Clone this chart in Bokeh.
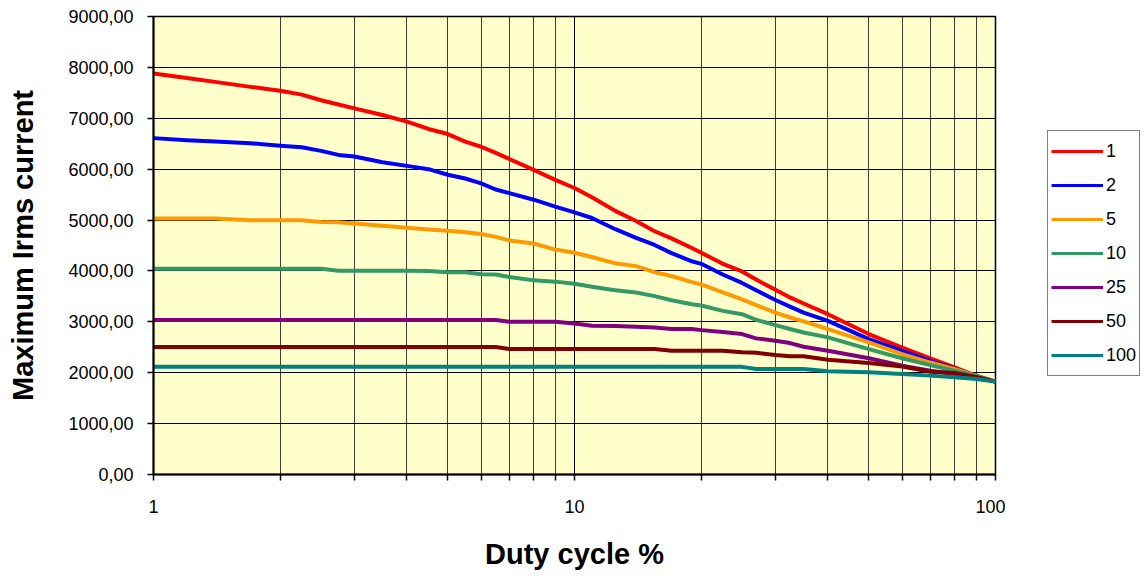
from bokeh.plotting import figure
from bokeh.models import (FixedTicker, CustomJSTickFormatter, Legend, LegendItem,
                          Range1d)
from bokeh.layouts import row
from bokeh.embed import file_html
from bokeh.resources import INLINE

duty = [1, 1.2, 1.4, 1.7, 2, 2.25, 2.5, 2.75, 3, 3.5, 4, 4.5, 5, 5.5, 6, 6.5, 7, 8, 9, 10,
        11, 12.5, 14, 15.5, 17, 19, 20, 22.5, 25, 27, 30, 32.5, 35, 40, 50, 60, 70, 80, 90, 100]

s1 = [7880, 7790, 7715, 7617, 7540, 7465, 7355, 7270, 7195, 7065, 6935, 6790, 6690, 6540,
      6440, 6320, 6200, 5985, 5790, 5630, 5450, 5180, 4980, 4780, 4640, 4450, 4357, 4140,
      3990, 3830, 3630, 3480, 3360, 3150, 2760, 2495, 2280, 2105, 1940, 1825]
s2 = [6610, 6570, 6545, 6510, 6460, 6430, 6360, 6280, 6250, 6137, 6065, 6000, 5890, 5817,
      5720, 5600, 5530, 5400, 5265, 5150, 5040, 4820, 4650, 4510, 4350, 4190, 4140, 3930,
      3765, 3620, 3430, 3300, 3180, 3020, 2660, 2430, 2235, 2075, 1935, 1825]
s5 = [5030, 5030, 5030, 4995, 4995, 4995, 4960, 4955, 4930, 4890, 4850, 4815, 4790, 4760,
      4725, 4670, 4600, 4540, 4420, 4357, 4275, 4150, 4095, 3975, 3900, 3780, 3735, 3580,
      3440, 3330, 3180, 3085, 3010, 2855, 2595, 2365, 2200, 2070, 1935, 1825]
s10 = [4045, 4045, 4045, 4045, 4045, 4045, 4045, 4005, 4005, 4005, 4005, 4000, 3975, 3975,
       3935, 3930, 3880, 3815, 3790, 3750, 3690, 3620, 3575, 3505, 3425, 3345, 3320, 3215,
       3150, 3040, 2935, 2860, 2790, 2695, 2465, 2285, 2150, 2040, 1930, 1825]
s25 = [3035, 3035, 3035, 3035, 3035, 3035, 3035, 3035, 3035, 3035, 3035, 3035, 3035, 3035,
       3035, 3035, 3000, 3000, 3000, 2967, 2925, 2920, 2902, 2890, 2857, 2857, 2837, 2800,
       2760, 2675, 2628, 2583, 2510, 2432, 2283, 2140, 2040, 1975, 1910, 1825]
s50 = [2505, 2505, 2505, 2505, 2505, 2505, 2505, 2505, 2505, 2505, 2505, 2505, 2505, 2505,
       2505, 2505, 2465, 2465, 2465, 2465, 2465, 2465, 2465, 2465, 2432, 2432, 2432, 2432,
       2400, 2393, 2348, 2322, 2322, 2256, 2190, 2120, 2020, 1995, 1910, 1825]
s100 = [2115, 2115, 2115, 2115, 2115, 2115, 2115, 2115, 2115, 2115, 2115, 2115, 2115, 2115,
        2115, 2115, 2115, 2115, 2115, 2115, 2115, 2115, 2115, 2115, 2115, 2115, 2115, 2115,
        2115, 2074, 2074, 2074, 2074, 2028, 2009, 1976, 1943, 1911, 1878, 1825]

series_names = ["1", "2", "5", "10", "25", "50", "100"]
series_values = [s1, s2, s5, s10, s25, s50, s100]
colors = ["#FF0000", "#0000FF", "#FF9900", "#339966", "#800080", "#800000", "#008080"]

x_major = [1, 10, 100]
x_minor = [2, 3, 4, 5, 6, 7, 8, 9, 20, 30, 40, 50, 60, 70, 80, 90]
y_ticks = [0, 1000, 2000, 3000, 4000, 5000, 6000, 7000, 8000, 9000]

FONT = "Liberation Sans"
H = 572

p = figure(width=1005, height=H, x_axis_type="log", output_backend="svg",
           toolbar_location=None, x_range=Range1d(1, 100), y_range=Range1d(0, 9000),
           min_border_left=153, min_border_right=10, min_border_top=16, min_border_bottom=96)

p.border_fill_color = "#FFFFFF"
p.background_fill_color = "#FFFFCC"
p.outline_line_color = "#000000"
p.outline_line_width = 1.5

# axes
p.xaxis.ticker = FixedTicker(ticks=x_major, minor_ticks=x_minor)
p.xaxis.major_label_overrides = {1: "1", 10: "10", 100: "100"}
p.yaxis.ticker = FixedTicker(ticks=y_ticks)
p.yaxis.formatter = CustomJSTickFormatter(code="return tick.toFixed(2).replace('.', ',');")

for ax in (p.xaxis[0], p.yaxis[0]):
    ax.axis_line_color = "#000000"
    ax.axis_line_width = 2
    ax.major_tick_line_color = "#000000"
    ax.major_tick_line_width = 1.5
    ax.major_tick_in = 0
    ax.major_tick_out = 6
    ax.major_label_text_font = FONT
    ax.major_label_text_font_size = "18px"
    ax.major_label_text_color = "#000000"
    ax.axis_label_text_font = FONT
    ax.axis_label_text_font_size = "29px"
    ax.axis_label_text_font_style = "bold"
    ax.axis_label_text_color = "#000000"

p.xaxis.minor_tick_line_color = "#000000"
p.xaxis.minor_tick_line_width = 1.5
p.xaxis.minor_tick_in = 0
p.xaxis.minor_tick_out = 6
p.yaxis.minor_tick_line_color = None
p.xaxis.major_label_standoff = 19
p.yaxis.major_label_standoff = 14
p.xaxis.axis_label = "Duty cycle %"
p.yaxis.axis_label = "Maximum Irms current"
p.xaxis.axis_label_standoff = 22
p.yaxis.axis_label_standoff = 26

# grids
p.xgrid.grid_line_color = "#000000"
p.xgrid.grid_line_width = 1
p.xgrid.minor_grid_line_color = "#000000"
p.xgrid.minor_grid_line_alpha = 0.75
p.xgrid.minor_grid_line_width = 1
p.ygrid.grid_line_color = "#000000"
p.ygrid.grid_line_width = 1

for name, vals, c in zip(series_names, series_values, colors):
    p.line(duty, vals, line_color=c, line_width=4, line_join="round")

# separate legend panel to the right of the chart (its lines lie outside its tiny ranges)
lf = figure(width=140, height=H, output_backend="svg", toolbar_location=None,
            x_range=Range1d(-2, -1), y_range=Range1d(-2, -1),
            x_axis_location=None, y_axis_location=None,
            min_border_left=0, min_border_right=0, min_border_top=0, min_border_bottom=0)
lf.outline_line_color = None
lf.background_fill_color = "#FFFFFF"
lf.border_fill_color = "#FFFFFF"
lf.grid.visible = False

items = []
for name, vals, c in zip(series_names, series_values, colors):
    r = lf.line(duty, vals, line_color=c, line_width=3)
    items.append(LegendItem(label=name, renderers=[r]))

legend = Legend(items=items, location=(42, 98))
legend.border_line_color = "#000000"
legend.border_line_width = 1
legend.background_fill_color = "#FFFFFF"
legend.background_fill_alpha = 1
legend.label_text_font = FONT
legend.label_text_font_size = "18px"
legend.label_text_color = "#000000"
legend.glyph_width = 52
legend.glyph_height = 34
legend.label_height = 34
legend.label_standoff = 3
legend.spacing = 0
legend.padding = 3
legend.margin = 0
lf.add_layout(legend, "center")

layout = row(p, lf)
open("out.html", "w").write(file_html(layout, INLINE))
